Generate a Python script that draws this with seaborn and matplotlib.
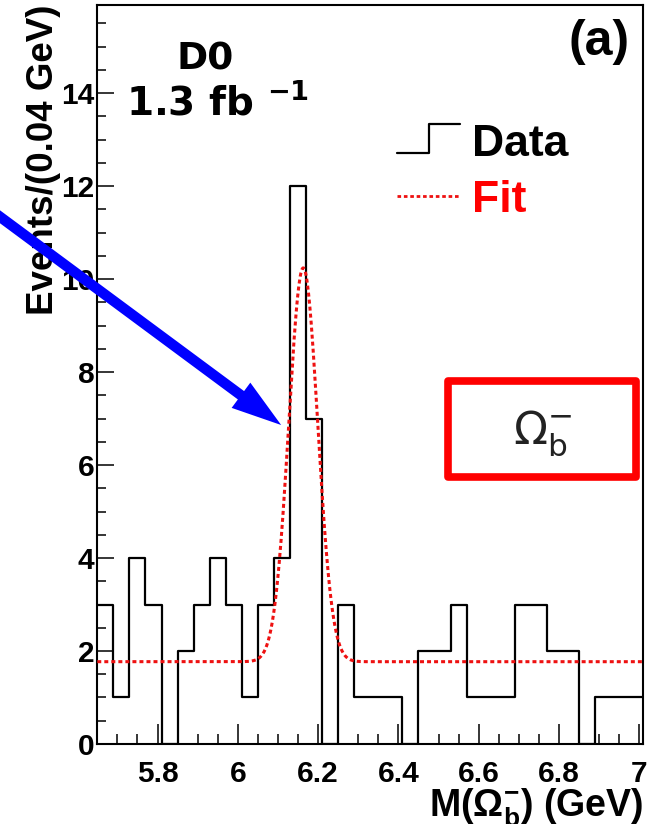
import numpy as np
import pandas as pd
import matplotlib
matplotlib.use("Agg")
import matplotlib.pyplot as plt
import seaborn as sns
from matplotlib.lines import Line2D
from matplotlib.patches import Rectangle
from matplotlib.legend_handler import HandlerBase
from matplotlib.ticker import MultipleLocator, FixedLocator, FixedFormatter

# ---------------- data ----------------
bin_low = 5.65          # GeV, left edge of first bin
bin_width = 0.04        # GeV
events = [3, 1, 4, 3, 0, 2, 3, 4, 3, 1, 3, 4, 12, 7, 0, 3, 1,
          1, 1, 0, 2, 2, 3, 1, 1, 1, 3, 3, 2, 2, 0, 1, 1, 1]

# fit: flat background + gaussian (parameters)
fit_background = 1.77
fit_peak = 8.47
fit_mean = 6.163
fit_sigma = 0.036

x_ticks = [5.8, 6.0, 6.2, 6.4, 6.6, 6.8, 7.0]
x_tick_labels = ["5.8", "6", "6.2", "6.4", "6.6", "6.8", "7"]
y_ticks = [0, 2, 4, 6, 8, 10, 12, 14]
y_tick_labels = ["0", "2", "4", "6", "8", "10", "12", "14"]

arrow_tip = (6.108, 6.86)   # where the blue arrow points (data coords)

# ---------------- derived tables ----------------
edges = bin_low + bin_width * np.arange(len(events) + 1)
centers = 0.5 * (edges[:-1] + edges[1:])
hist_df = pd.DataFrame({"mass": centers, "events": events})

fit_x = np.linspace(edges[0], edges[-1], 800)
fit_y = fit_background + fit_peak * np.exp(-0.5 * ((fit_x - fit_mean) / fit_sigma) ** 2)
fit_df = pd.DataFrame({"mass": fit_x, "fit": fit_y})

# ---------------- style ----------------
sns.set_style("ticks")
plt.rcParams.update({
    "font.family": ["Liberation Sans", "DejaVu Sans"],
    "font.weight": "bold",
    "mathtext.fontset": "custom",
    "mathtext.rm": "Liberation Sans",
    "mathtext.bf": "Liberation Sans:bold",
    "mathtext.default": "regular",
    "axes.linewidth": 1.5,
    "axes.edgecolor": "black",
    "text.color": "black",
    "axes.labelcolor": "black",
    "xtick.color": "black",
    "ytick.color": "black",
    "xtick.labelcolor": "black",
    "ytick.labelcolor": "black",
})

fig = plt.figure(figsize=(6.6, 8.24), dpi=100)
ax = fig.add_axes([0.1474, 0.0971, 0.8273, 0.8972])

sns.histplot(data=hist_df, x="mass", weights="events", bins=[float(e) for e in edges],
             element="step", fill=False, color="black", linewidth=1.6, ax=ax)
sns.lineplot(data=fit_df, x="mass", y="fit", color="#ee1111", linewidth=2.2,
             linestyle=(0, (1.3, 1.0)), estimator=None, ax=ax, zorder=3)

ax.set_xlim(edges[0], edges[-1])
ax.set_ylim(0, 15.9)

ax.xaxis.set_major_locator(FixedLocator(x_ticks))
ax.xaxis.set_major_formatter(FixedFormatter(x_tick_labels))
ax.xaxis.set_minor_locator(MultipleLocator(0.05))
ax.yaxis.set_major_locator(FixedLocator(y_ticks))
ax.yaxis.set_major_formatter(FixedFormatter(y_tick_labels))
ax.yaxis.set_minor_locator(MultipleLocator(0.5))

ax.tick_params(axis="both", which="both", direction="in", top=False, right=False,
               width=1.1, color="black", labelcolor="black")
ax.tick_params(axis="x", which="major", length=14.4, pad=11.5, labelsize=21.5)
ax.tick_params(axis="x", which="minor", length=7.2)
ax.tick_params(axis="y", which="major", length=12, pad=2, labelsize=21.5)
ax.tick_params(axis="y", which="minor", length=6.5)
for lab in ax.get_xticklabels() + ax.get_yticklabels():
    lab.set_fontweight("bold")

ax.set_ylabel("Events/(0.04 GeV)", fontsize=26.5, fontweight="bold", loc="top",
              color="black")
ax.yaxis.set_label_coords(-0.0665, 1.0)
ax.set_xlabel(r"M($\Omega_b^{-}$) (GeV)", fontsize=27, fontweight="bold", loc="right",
              color="black")
ax.xaxis.set_label_coords(1.0, -0.058)

# texts
ax.text(0.197, 0.913, "D0", transform=ax.transAxes, ha="center", va="baseline",
        fontsize=27, fontfamily="DejaVu Sans", fontweight="bold", color="black")
ax.text(0.2209, 0.8518, r"1.3 fb $^{-1}$", transform=ax.transAxes, ha="center",
        va="baseline", fontsize=28, fontfamily="DejaVu Sans", fontweight="bold",
        color="black")
ax.text(0.9756, 0.932, "(a)", transform=ax.transAxes, ha="right", va="baseline",
        fontsize=36, fontweight="bold", color="black")

# red box with Omega_b
ax.add_patch(Rectangle((0.642, 0.361), 0.345, 0.130, transform=ax.transAxes,
                       facecolor="white", edgecolor="#ff0000", linewidth=5.5,
                       joinstyle="round", zorder=5))
ax.text(0.815, 0.4207, r"$\Omega_b^{-}$", transform=ax.transAxes, ha="center",
        va="center", fontsize=32, fontfamily="DejaVu Sans", fontweight="normal",
        color="#222222", zorder=6)


# legend with a step-shaped key for the data
class StepHandler(HandlerBase):
    def create_artists(self, legend, orig_handle, xdescent, ydescent, width,
                       height, fontsize, trans):
        x0 = -xdescent
        y0 = -ydescent
        xs = [x0, x0 + 0.5 * width, x0 + 0.5 * width, x0 + width]
        ys = [y0 + 0.09 * height, y0 + 0.09 * height, y0 + height, y0 + height]
        ln = Line2D(xs, ys, color=orig_handle.get_color(),
                    linewidth=orig_handle.get_linewidth())
        ln.set_transform(trans)
        return [ln]


data_handle = Line2D([], [], color="black", linewidth=1.6)
fit_handle = Line2D([], [], color="#ee1111", linewidth=2.0, linestyle=(0, (1.3, 1.0)))
leg = ax.legend([data_handle, fit_handle], ["Data", "Fit"],
                handler_map={data_handle: StepHandler()},
                loc="upper left", bbox_to_anchor=(0.549, 0.8393),
                frameon=False, borderpad=0, borderaxespad=0,
                handlelength=1.42, handletextpad=0.27, labelspacing=0.345,
                prop={"family": "Liberation Sans", "weight": "bold", "size": 32})
leg.get_texts()[0].set_color("black")
leg.get_texts()[1].set_color("#ff0000")

# blue arrow coming in from the left edge
ax.annotate("", xy=arrow_tip, xycoords="data",
            xytext=(-0.03, 0.7547), textcoords="figure fraction",
            arrowprops=dict(arrowstyle="simple,head_length=36,head_width=22.6,tail_width=7.5",
                            mutation_scale=1, facecolor="#0000ff", edgecolor="#0000ff",
                            lw=0, shrinkA=0, shrinkB=0),
            annotation_clip=False, zorder=10)

fig.savefig("out.png", dpi=100)
